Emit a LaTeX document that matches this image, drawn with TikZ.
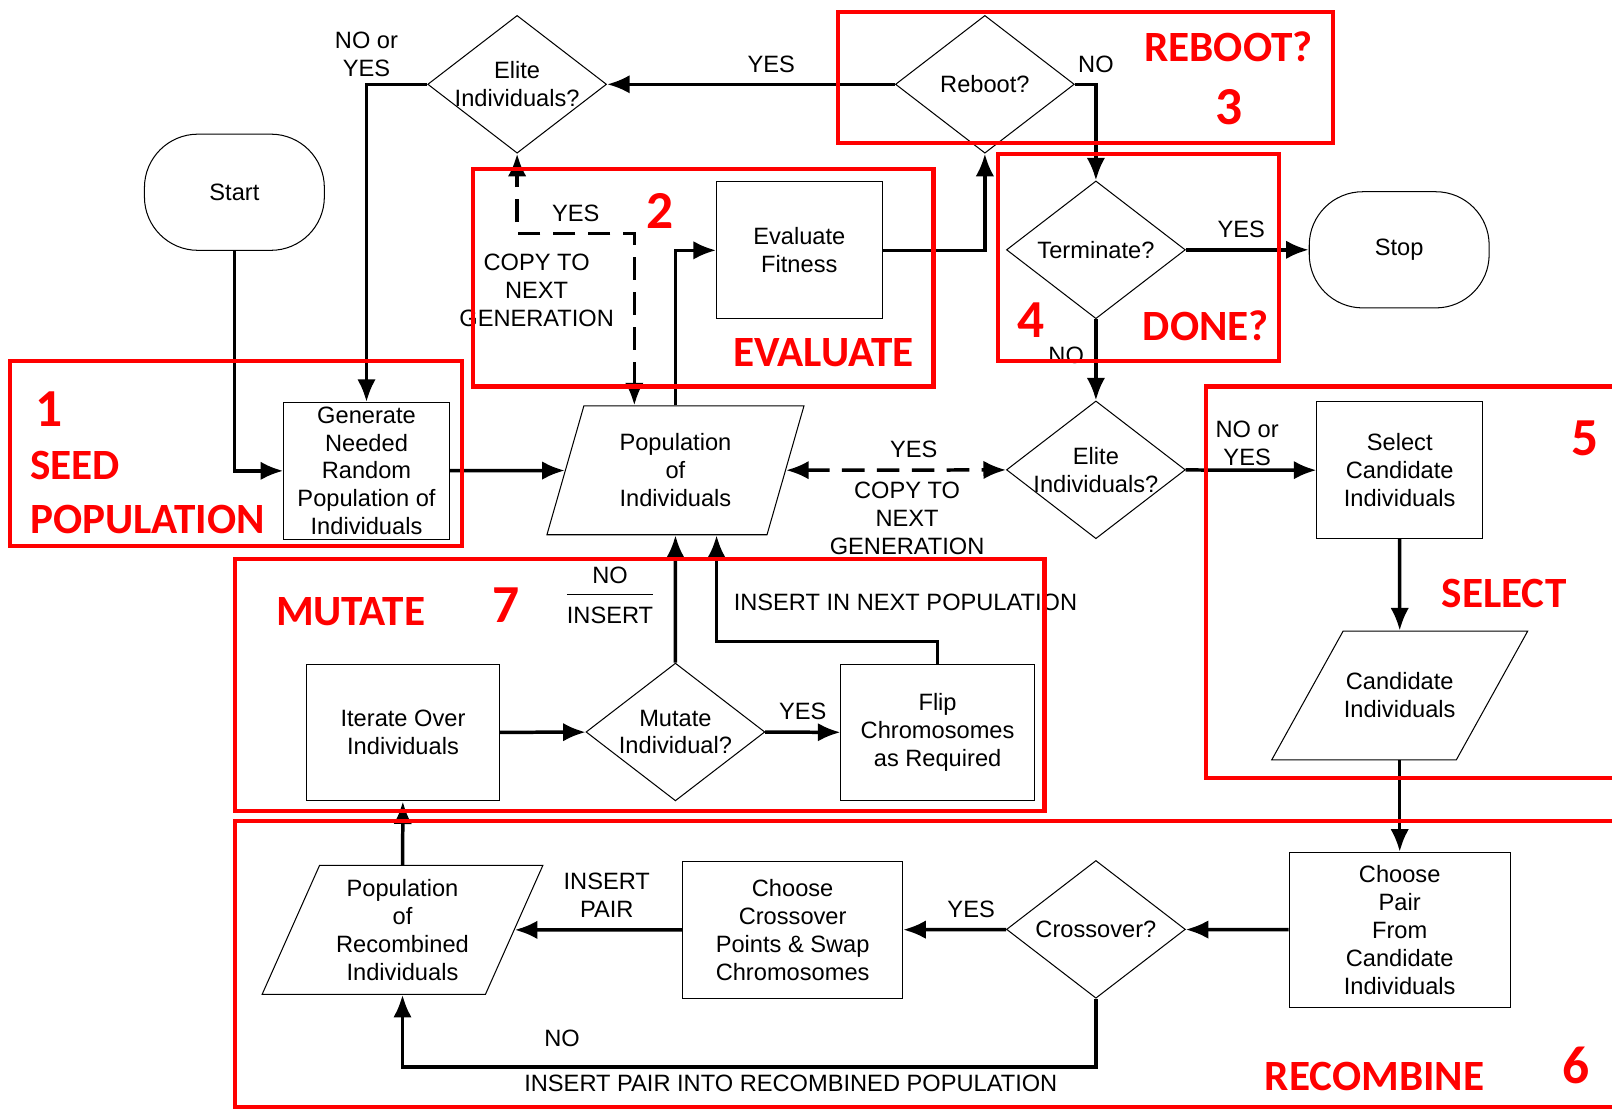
\documentclass[tikz,border=0pt]{standalone}
\usepackage{fontspec}
\setmainfont{Liberation Sans}
\newfontfamily\tagfont{Carlito}
\usepackage{xcolor}
\usetikzlibrary{shapes.geometric,arrows.meta}

\begin{document}
\begin{tikzpicture}[x=0.5pt, y=-0.5pt, font=\fontsize{11.5}{13.6}\selectfont,%
        every node/.style={align=center, inner sep=0pt},%
        flow/.style={line width=1.7pt, ->, >={Latex[length=11pt,width=9pt]}},%
        lab/.style={inner sep=5pt},%
        box/.style={draw, line width=.5pt, minimum width=#1, minimum height=66.5pt}, box/.default=80.5pt,%
        terminal/.style={draw, line width=.5pt, rounded corners=26pt, minimum width=87.5pt, minimum height=56.5pt},%
        decision/.style={diamond, draw, line width=.5pt, inner xsep=-10pt, inner ysep=0pt, minimum width=87pt, minimum height=67pt},%
        data/.style={trapezium, draw, line width=.5pt, trapezium stretches body, inner ysep=#1}, data/.default=13.5pt,%
        redbox/.style={draw=red, line width=2pt},%
        tag/.style={text=red, font=\tagfont\bfseries\fontsize{21}{23}\selectfont},%
        num/.style={text=red, font=\tagfont\bfseries\fontsize{26}{28}\selectfont}]
    \useasboundingbox (0,0) rectangle (1568,1080);
    % shapes
    \node[terminal] (start) at (228,187) {Start};
    \node[terminal] (stop) at (1361,243) {Stop};
    \node[box] (gen) at (356.5,458) {Generate\\Needed\\Random\\Population of\\Individuals};
    \node[box] (eval) at (777.5,243.5) {Evaluate\\Fitness};
    \node[box] (select) at (1361.5,457.5) {Select\\Candidate\\Individuals};
    \node[box=107.5pt, minimum height=75.5pt] (pair) at (1361.5,904.5) {Choose\\Pair\\From\\Candidate\\Individuals};
    \node[box=107pt] (swap) at (771,904.5) {Choose\\Crossover\\Points \& Swap\\Chromosomes};
    \node[box=94pt] (iter) at (392,712.5) {Iterate Over\\Individuals};
    \node[box=94pt] (flip) at (912,712.5) {Flip\\Chromosomes\\as Required};
    \node[decision] (elitea) at (503,82) {Elite\\Individuals?};
    \node[decision] (reboot) at (958,82) {Reboot?};
    \node[decision] (term) at (1066,243) {Terminate?};
    \node[decision] (eliteb) at (1066,457) {Elite\\Individuals?};
    \node[decision] (mutq) at (657,712) {Mutate\\Individual?};
    \node[decision] (cross) at (1066,904) {Crossover?};
    \node[data, trapezium left angle=74, trapezium right angle=106, minimum width=125pt] (pop) at (657,457.5) {Population\\of\\Individuals};
    \node[data=20.3pt, trapezium left angle=61, trapezium right angle=119, minimum width=124.5pt] (cand) at (1361.5,676.5) {Candidate\\Individuals};
    \node[data=6.7pt, trapezium left angle=66, trapezium right angle=114, minimum width=136.5pt] (recomb) at (391.5,904.5) {Population\\of\\Recombined\\Individuals};
    % connectors
    \draw[flow] (start) |- (gen);
    \draw[flow] (gen) -- (pop);
    \draw[flow] (pop) |- (eval);
    \draw[flow] (eval) -| (reboot);
    \draw[flow] (reboot) -- node[lab, above, pos=.43] {YES} (elitea);
    \draw[flow] (reboot) -| node[lab, above, pos=.5] {NO} (term);
    \draw[flow] (elitea) -| node[lab, inner sep=3pt, above, pos=.5] {NO or\\YES} (gen);
    \draw[flow, <->, dash pattern=on 11pt off 6pt] ([xshift=-20pt]pop.north) -- ++(0,-167) -| node[lab, above, pos=.25] {YES} node[lab, below=4pt, pos=.25, xshift=-19pt] {COPY TO\\NEXT\\GENERATION} (elitea);
    \draw[flow, <->, dash pattern=on 11pt off 6pt] (pop) -- node[lab, above, pos=.58] {YES} node[lab, below, pos=.55] {COPY TO\\NEXT\\GENERATION} (eliteb);
    \draw[flow] (term) -- node[lab, above, pos=.45] {YES} (stop);
    \draw[flow] (term) -- node[lab, left, pos=.44] {NO} (eliteb);
    \draw[flow] (eliteb) -- node[lab, inner sep=1.5pt, above, pos=.47] {NO or\\YES} (select);
    \draw[flow] (select) -- (cand);
    \draw[flow] (cand) -- (pair);
    \draw[flow] (pair) -- (cross);
    \draw[flow] (cross) -- node[lab, above, pos=.34] {YES} (swap);
    \draw[flow] (swap) -- node[lab, above, pos=.45] {INSERT\\PAIR} (recomb);
    \draw[flow] (cross) -- ++(0,134) -| node[lab, above=4pt, pos=.385] {NO} node[lab, inner sep=3pt, below, pos=.22] {INSERT PAIR INTO RECOMBINED POPULATION} (recomb);
    \draw[flow] (recomb) -- (iter);
    \draw[flow] (iter) -- (mutq);
    \draw[flow] (mutq) -- node[lab, above] {YES} (flip);
    \draw[flow] (mutq) -- node[lab, left=5pt, pos=.51] {\begin{tabular}{@{}c@{}}NO\\[1pt]\hline\rule{0pt}{14pt}INSERT\end{tabular}} (pop);
    \draw[flow] (flip) -- ++(0,-88.5) -| node[pos=.465, anchor=south west, yshift=14pt] {INSERT IN NEXT POPULATION} ([xshift=20pt]pop.south);
    % stages
    \draw[redbox] (10,351) rectangle (449,531);
    \draw[redbox] (460,164) rectangle (908,376);
    \draw[redbox] (815,12) rectangle (1297,139);
    \draw[redbox] (971,150) rectangle (1244,351);
    \draw[redbox] (1173,376) rectangle (1590,757);
    \draw[redbox] (229,799) rectangle (1590,1077);
    \draw[redbox] (229,544) rectangle (1016,789);
    \node[num] (n1) at (48,398) {1};
    \node[tag, anchor=west] (seed) at (29,453) {SEED};
    \node[tag, anchor=west] (seedpop) at (29,505) {POPULATION};
    \node[num] (n2) at (642,205) {2};
    \node[tag] (evallbl) at (801,343) {EVALUATE};
    \node[tag] (rebootlbl) at (1195,45) {REBOOT?};
    \node[num] (n3) at (1195,104) {3};
    \node[num] (n4) at (1003,311) {4};
    \node[tag] (donelbl) at (1173,317) {DONE?};
    \node[num] (n5) at (1542,426) {5};
    \node[tag] (selectlbl) at (1463,577) {SELECT};
    \node[num] (n6) at (1533,1036) {6};
    \node[tag] (recomblbl) at (1337,1047) {RECOMBINE};
    \node[tag] (mutatelbl) at (341,595) {MUTATE};
    \node[num] (n7) at (492,589) {7};
\end{tikzpicture}
\end{document}
